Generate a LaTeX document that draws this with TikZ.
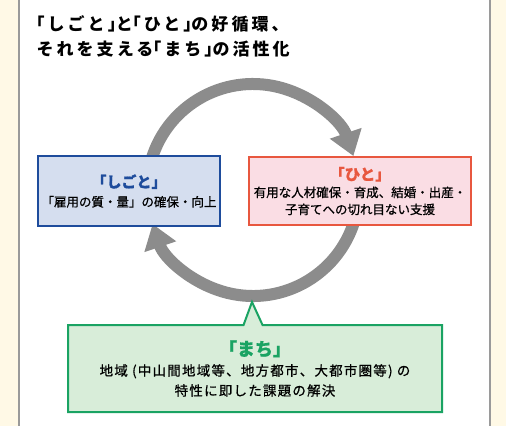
\documentclass[tikz,border=0pt]{standalone}
\usepackage{fontspec}
\newfontfamily\jp[FakeBold=0.7]{Noto Sans CJK JP}
\newfontfamily\jpwide[FakeBold=0.7,LetterSpace=9]{Noto Sans CJK JP}
\newfontfamily\jptitle[LetterSpace=18]{Noto Sans CJK JP}
\newcommand\obr{\kern-9pt「}
\newcommand\cbr{」\kern-9pt}
\usetikzlibrary{arrows.meta}
\usetikzlibrary{shapes.callouts}

\definecolor{cream}{HTML}{FFF9E6}
\definecolor{framegray}{HTML}{9A9A9A}
\definecolor{ringgray}{HTML}{8C8C8C}
\definecolor{sgblue}{HTML}{1E4C9C}
\definecolor{sgfill}{HTML}{D5DEEF}
\definecolor{htred}{HTML}{E8573F}
\definecolor{htfill}{HTML}{FADDE4}
\definecolor{mcgreen}{HTML}{1AA363}
\definecolor{mcfill}{HTML}{D8EDD9}

\begin{document}
\begin{tikzpicture}[x=1pt,y=1pt,
		box/.style = {draw, line width=2pt, align=center, inner sep=0pt, font=\jp\fontsize{12.5}{17}\selectfont},
		ringarrow/.style = {draw=ringgray, line width=12pt, -{Triangle[width=32pt,length=24pt]}}
			]
		\useasboundingbox (0,0) rectangle (506,-426);
		\fill[cream] (0,0) rectangle (506,-426);
		\fill[white] (19,0) rectangle (490,-426);
		\draw[framegray, line width=1.5pt] (19,0) -- (19,-426);
		\draw[framegray, line width=1.5pt] (490,0) -- (490,-426);

		\node[anchor=west, align=left, font=\jptitle\bfseries\fontsize{17}{25}\selectfont] (title) at (33,-36)
			{\obr しごと\cbr と\obr ひと\cbr の好循環、\\それを支える\obr まち\cbr の活性化};

		\coordinate (ringcenter) at (253,-190);
		\coordinate (ringbottom) at (252,-302);

		\draw[ringarrow] (ringcenter) ++(166:106) arc[start angle=166, end angle=18.7, radius=106];
		\draw[ringarrow] (ringcenter) ++(-14:106) arc[start angle=-14, end angle=-161.3, radius=106];

		\node[box, draw=sgblue, fill=sgfill, minimum width=182pt, minimum height=70pt] (shigoto) at (129,-191)
			{{\color{sgblue}\bfseries\fontsize{15}{17}\selectfont 「しごと」}\\[2pt]「雇用の質・量」の確保・向上};

		\node[box, draw=htred, fill=htfill, minimum width=222pt, minimum height=68pt] (hito) at (360,-191)
			{{\color{htred}\bfseries\fontsize{15.5}{17}\selectfont 「ひと」}\\[0pt]有用な人材確保・育成、結婚・出産・\\子育てへの切れ目ない支援};

		\node[box, rectangle callout, callout absolute pointer=(ringbottom), callout pointer width=19pt,
			draw=mcgreen, fill=mcfill, minimum width=374pt, minimum height=87pt,
			font=\jpwide\fontsize{13.5}{20}\selectfont] (machi) at (255,-368.5)
			{{\color{mcgreen}\jp\bfseries\fontsize{18}{18}\selectfont 「まち」}\\[0pt]地域 (中山間地域等、地方都市、大都市圏等) の\\特性に即した課題の解決};

	\end{tikzpicture}
\end{document}
